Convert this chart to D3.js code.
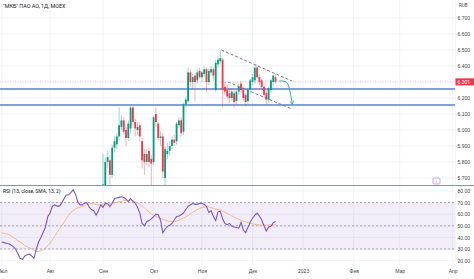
<!DOCTYPE html>
<html>
<head>
<meta charset="utf-8">
<script src="https://cdn.jsdelivr.net/npm/d3@7"></script>
<style>
  body { margin: 0; background: #fff; }
  svg { display: block; font-family: Roboto, "DejaVu Sans", sans-serif; }
</style>
</head>
<body>
<svg id="chart" width="474" height="279"></svg>
<script>
// Month ticks (trading-day index) and labels on the time axis
const monthIdx = [0, 21, 44, 66, 87, 109, 131, 153, 173, 196];
const monthLabels = ["Июл", "Авг", "Сен", "Окт", "Ноя", "Дек", "2023", "Фев", "Мар", "Апр"];

// Price axis ticks and RSI axis ticks
const priceTicks = [5.7, 5.8, 5.9, 6.0, 6.1, 6.2, 6.3, 6.4, 6.5, 6.6, 6.7];
const rsiTicks = [20, 30, 40, 50, 60, 70, 80];

// Daily candles, first visible bar is index 44 (1 Sep)
const firstBar = 44;
const open  = [5.62,5.64,5.80,5.81,5.72,5.89,5.91,5.96,6.02,6.06,6.00,5.95,6.01,6.14,6.05,6.00,6.03,5.93,5.85,5.80,
               5.87,5.82,5.80,6.10,6.04,5.95,5.96,5.70,5.85,5.87,5.90,5.94,5.93,6.03,6.06,5.99,6.16,6.18,6.36,6.30,
               6.34,6.31,6.37,6.33,6.35,6.38,6.30,6.36,6.38,6.25,6.41,6.43,6.44,6.27,6.25,6.23,6.20,6.23,6.18,6.24,
               6.29,6.25,6.22,6.18,6.25,6.30,6.31,6.39,6.33,6.31,6.27,6.23,6.19,6.25,6.30,6.33];
const high  = [5.85,5.83,5.87,5.84,5.91,5.96,5.98,6.14,6.09,6.08,6.02,6.06,6.15,6.15,6.07,6.05,6.05,5.95,5.88,5.88,
               5.89,5.84,6.09,6.14,6.05,5.99,5.98,5.90,5.92,5.93,5.96,5.97,6.05,6.08,6.08,6.17,6.21,6.39,6.38,6.35,
               6.36,6.38,6.39,6.37,6.40,6.39,6.38,6.40,6.39,6.44,6.46,6.50,6.45,6.30,6.28,6.26,6.26,6.25,6.25,6.29,
               6.31,6.27,6.23,6.26,6.32,6.35,6.41,6.41,6.35,6.32,6.29,6.25,6.27,6.32,6.35,6.35];
const low   = [5.58,5.61,5.76,5.66,5.70,5.86,5.88,5.94,6.00,5.97,5.90,5.93,5.98,6.03,5.96,5.97,5.93,5.76,5.72,5.78,
               5.77,5.62,5.78,6.02,5.93,5.90,5.70,5.62,5.82,5.84,5.88,5.90,5.91,6.01,5.96,5.97,6.14,6.17,6.27,6.26,
               6.18,6.29,6.32,6.30,6.33,6.24,6.28,6.34,6.31,6.24,6.39,6.41,6.14,6.22,6.19,6.17,6.18,6.14,6.16,6.22,
               6.23,6.18,6.15,6.16,6.23,6.28,6.29,6.32,6.28,6.25,6.20,6.16,6.17,6.23,6.28,6.29];
const close = [5.66,5.80,5.83,5.72,5.89,5.93,5.96,6.03,6.06,5.99,5.95,6.04,6.14,6.05,6.01,6.02,5.96,5.81,5.80,5.85,
               5.80,5.79,6.08,6.05,5.95,5.96,5.74,5.88,5.87,5.90,5.94,5.92,6.04,6.06,5.98,6.16,6.19,6.36,6.30,6.33,
               6.30,6.36,6.33,6.36,6.38,6.30,6.37,6.38,6.34,6.42,6.44,6.45,6.25,6.24,6.21,6.20,6.24,6.175,6.24,6.27,
               6.25,6.20,6.175,6.25,6.31,6.33,6.39,6.33,6.30,6.27,6.22,6.19,6.26,6.31,6.34,6.301];

// RSI (13) and its SMA, one value per bar from index 0
const rsi = [36,35.5,35,34.5,33.5,32,30,26,22,21,24,25,25.5,24,22,30,36,40,44.5,49,
             58,61,67,68,67,67,69.5,73,76.5,76.5,78.5,81,77.5,71,68,68,69.5,70,66,64,
             63,59,63,68,66,69.5,69,66.5,69.5,73.5,74,74.5,75,74.5,73,70.8,73.5,71,69.5,66,
             61,52,50,53.5,54.5,56,58,60,59.5,55,44,47,49.5,50.5,52,55,58,58.5,59.5,61,
             64,67,68,69.4,68.5,68.5,69.4,69.2,68.5,66.5,61.5,63,58,54.5,62,62.5,56,52,51,52,
             49.5,49,48.5,48,53,46.4,44,48.5,53,56.5,59,61,58.5,55,50,45.5,49,49.5,52.5,54];
const rsiSma = [44,43.5,43,42.5,41.5,40,38.5,37,36,34.5,33,32,31,30,29,28,28,28.5,29,31,
                33,35,38,41,44,47,50,53,56,59,61.5,63,64.5,65.5,66,66.8,67.5,68.2,69,69.2,
                69,68.5,68,68,68,68,68.3,68.8,69.2,69.6,70.2,70.7,71.2,71.6,72,72,71.8,71.5,70.8,69.8,
                68.8,67.2,65.5,63.6,62,60.5,59.3,58.3,57.3,56.4,55.5,54.8,54.3,53.8,53.5,53.6,54.2,54.8,55.6,56.6,
                57.8,59,60.3,61.6,62.8,64,65,65.6,66.1,66.4,66.2,65.6,65,64.5,64,63.5,62.6,61.6,60.6,59.6,
                58.6,57.6,56.6,55.6,54.8,54,53.4,52.8,52.2,51.7,51.2,50.9,50.7,50.6,50.6,50.6,50.6,50.7,50.8,50.9];

// Drawings: horizontal levels, falling channel, forecast arrow
const levels = [6.256, 6.156];
const channelTop = [[95.5, 6.50], [126.2, 6.306]];
const channelBottom = [[98.3, 6.30], [126.2, 6.131]];
const arrowPts = [[120.6, 6.305], [124.3, 6.29], [126.3, 6.16]];
const lastPrice = 6.301;

const svg = d3.select("#chart");
const W = 474, axisX = 455;

const x = d3.scaleLinear().domain([0, 196]).range([1.8, 452.6]);
const y = d3.scaleLinear().domain([5.6563, 6.8125]).range([185, 0]);
const yr = d3.scaleLinear().domain([20, 80]).range([260.6, 191]);

const defs = svg.append("defs");
defs.append("clipPath").attr("id", "clipMain")
  .append("rect").attr("x", 0).attr("y", 0).attr("width", axisX).attr("height", 185);
defs.append("clipPath").attr("id", "clipRsi")
  .append("rect").attr("x", 0).attr("y", 186).attr("width", axisX).attr("height", 80);
defs.append("marker").attr("id", "arrowHead")
  .attr("viewBox", "0 0 10 10").attr("refX", 8).attr("refY", 5)
  .attr("markerWidth", 5).attr("markerHeight", 5).attr("orient", "auto")
  .append("path").attr("d", "M1,1 L8,5 L1,9").attr("fill", "none")
  .attr("stroke", "#3aa6bd").attr("stroke-width", 1.5);

// grid
const grid = svg.append("g").attr("stroke", "#eef0f5").attr("stroke-width", 0.8);
grid.selectAll(".gv").data(monthIdx).join("line")
  .attr("x1", d => x(d)).attr("x2", d => x(d)).attr("y1", 0).attr("y2", 266);
grid.selectAll(".gp").data(priceTicks).join("line")
  .attr("x1", 0).attr("x2", axisX).attr("y1", d => y(d)).attr("y2", d => y(d));
grid.selectAll(".gr").data(rsiTicks).join("line")
  .attr("x1", 0).attr("x2", axisX).attr("y1", d => yr(d)).attr("y2", d => yr(d));

// main pane
const main = svg.append("g").attr("clip-path", "url(#clipMain)");

main.append("line")
  .attr("x1", 0).attr("x2", axisX).attr("y1", y(lastPrice)).attr("y2", y(lastPrice))
  .attr("stroke", "#f23645").attr("stroke-opacity", 0.35).attr("stroke-width", 0.8)
  .attr("stroke-dasharray", "1,1.5");

main.selectAll(".lvl").data(levels).join("line")
  .attr("x1", 0).attr("x2", axisX).attr("y1", d => y(d)).attr("y2", d => y(d))
  .attr("stroke", "#5b7fd4").attr("stroke-width", 1.5);

const bars = close.map((c, k) => ({ i: firstBar + k, o: open[k], h: high[k], l: low[k], c: c }));
const colorOf = d => d.c >= d.o ? "#089981" : "#f23645";

main.selectAll(".wick").data(bars).join("line")
  .attr("x1", d => x(d.i)).attr("x2", d => x(d.i))
  .attr("y1", d => y(d.h)).attr("y2", d => y(d.l))
  .attr("stroke", colorOf).attr("stroke-opacity", 0.5).attr("stroke-width", 0.8);

main.selectAll(".body").data(bars).join("rect")
  .attr("x", d => x(d.i) - 0.9).attr("width", 1.8)
  .attr("y", d => y(Math.max(d.o, d.c)))
  .attr("height", d => Math.max(0.8, Math.abs(y(d.o) - y(d.c))))
  .attr("fill", colorOf);

const pLine = d3.line().x(d => x(d[0])).y(d => y(d[1]));
[channelTop, channelBottom].forEach(seg => {
  main.append("path").attr("d", pLine(seg)).attr("fill", "none")
    .attr("stroke", "#6a6d78").attr("stroke-width", 0.9).attr("stroke-dasharray", "3,2");
});

main.append("path")
  .attr("d", pLine.curve(d3.curveCardinal)(arrowPts))
  .attr("fill", "none").attr("stroke", "#3aa6bd").attr("stroke-width", 1)
  .attr("marker-end", "url(#arrowHead)");

// separator line
svg.append("line").attr("x1", 0).attr("x2", W).attr("y1", 185.5).attr("y2", 185.5)
  .attr("stroke", "#f06292").attr("stroke-width", 1.1);

// collapse button
svg.append("rect").attr("x", 433).attr("y", 178).attr("width", 7).attr("height", 6).attr("rx", 1)
  .attr("fill", "#fff").attr("stroke", "#b36ad1").attr("stroke-width", 0.6);
svg.append("text").attr("x", 436.5).attr("y", 183).attr("text-anchor", "middle")
  .attr("font-size", 5).attr("fill", "#9c4fc1").text("‹");

// RSI pane
const rp = svg.append("g").attr("clip-path", "url(#clipRsi)");
rp.append("rect").attr("x", 0).attr("width", axisX)
  .attr("y", yr(70)).attr("height", yr(30) - yr(70))
  .attr("fill", "#7e57c2").attr("fill-opacity", 0.1);
rp.selectAll(".band").data([70, 50, 30]).join("line")
  .attr("x1", 0).attr("x2", axisX).attr("y1", d => yr(d)).attr("y2", d => yr(d))
  .attr("stroke", "#8a84a0").attr("stroke-width", 0.7).attr("stroke-dasharray", "2,2");

const rLine = d3.line().x((d, i) => x(i)).y(d => yr(d));
rp.append("path").attr("d", rLine(rsiSma)).attr("fill", "none")
  .attr("stroke", "#f5b27a").attr("stroke-width", 0.9);
rp.append("path").attr("d", rLine(rsi)).attr("fill", "none")
  .attr("stroke", "#7e57c2").attr("stroke-width", 1.1);

// axes
const fs = 5;
const pAxis = svg.append("g").attr("transform", `translate(${axisX},0)`)
  .call(d3.axisRight(y).tickValues(priceTicks).tickSize(0).tickPadding(2.5).tickFormat(d3.format(".3f")));
const rAxis = svg.append("g").attr("transform", `translate(${axisX},0)`)
  .call(d3.axisRight(yr).tickValues(rsiTicks).tickSize(0).tickPadding(2.5).tickFormat(d3.format(".2f")));
const tAxis = svg.append("g").attr("transform", "translate(0,266)")
  .call(d3.axisBottom(x).tickValues(monthIdx).tickSize(0).tickPadding(3)
    .tickFormat((d, i) => monthLabels[i]));
[pAxis, rAxis, tAxis].forEach(a => {
  a.select(".domain").attr("stroke", "#eceef3").attr("stroke-width", 0.6);
  a.selectAll("text").attr("font-size", fs).attr("fill", "#3b3f4a").attr("font-family", null);
});
tAxis.select(".domain").remove();

// last price label
svg.append("rect").attr("x", axisX + 0.5).attr("y", y(lastPrice) - 3.5)
  .attr("width", W - axisX).attr("height", 7).attr("fill", "#f23645");
svg.append("text").attr("x", axisX + 2.5).attr("y", y(lastPrice) + 1.8)
  .attr("font-size", fs).attr("fill", "#fff").text(d3.format(".3f")(lastPrice));

// texts
svg.append("text").attr("x", 459).attr("y", 7).attr("font-size", 4.5).attr("fill", "#3b3f4a").text("RUB");
svg.append("text").attr("x", 3).attr("y", 8).attr("font-size", 5.4).attr("fill", "#131722")
  .text("\"МКБ\" ПАО АО, 1Д, MOEX");
svg.append("text").attr("x", 3).attr("y", 193).attr("font-size", 5).attr("fill", "#131722")
  .text("RSI (13, close, SMA, 13, 2)");
</script>
</body>
</html>
